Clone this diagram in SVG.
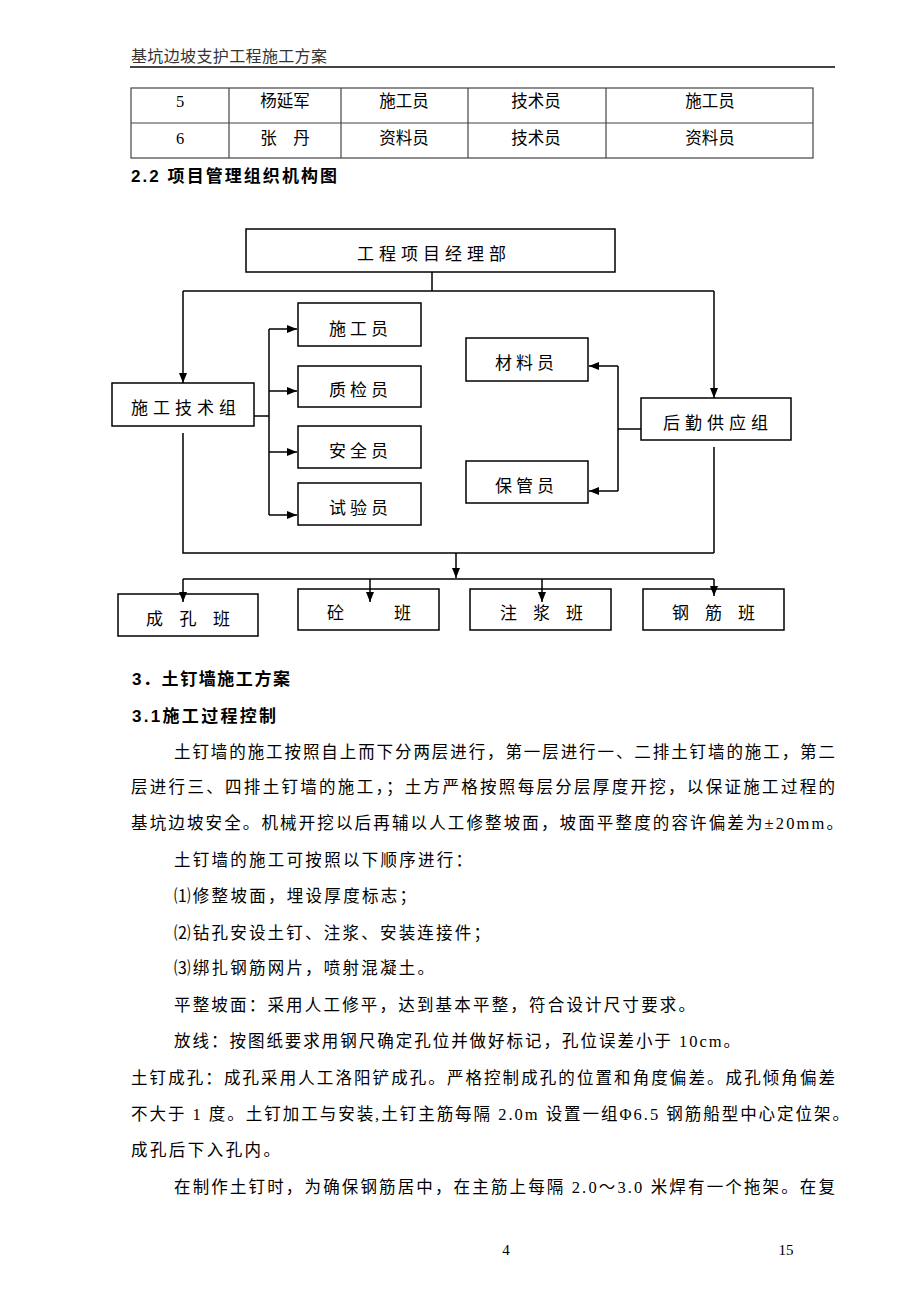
<svg xmlns="http://www.w3.org/2000/svg" width="920" height="1302" viewBox="0 0 920 1302">
<style>
.t{font-family:"Liberation Serif","Noto Sans CJK SC",serif;fill:#000;dominant-baseline:central}
.body{font-size:16.5px}
.hd{font-family:"Liberation Sans","Noto Sans CJK SC",sans-serif;font-weight:bold;font-size:17px;fill:#000;dominant-baseline:central}
.box{fill:#fff;stroke:#000;stroke-width:1.5}
.bt{font-family:"Noto Sans CJK SC",sans-serif;font-size:17px;fill:#000;dominant-baseline:central}
.ln{fill:none;stroke:#000;stroke-width:1.5}
.tb{fill:none;stroke:#444;stroke-width:1.2}
.tc{font-family:"Liberation Serif","Noto Sans CJK SC",serif;font-size:16.5px;fill:#000;dominant-baseline:central;text-anchor:middle}
</style>
<defs>
<marker id="ah" viewBox="0 0 10 8" refX="10" refY="4" markerWidth="10" markerHeight="8" markerUnits="userSpaceOnUse" orient="auto">
<path d="M0,0 L10,4 L0,8 z" fill="#000"/>
</marker>
</defs>
<rect width="920" height="1302" fill="#fff"/>

<g id="header">
<text x="131" y="55" font-family="Noto Sans CJK SC,sans-serif" font-size="16" fill="#333" dominant-baseline="central" textLength="196" lengthAdjust="spacing">基坑边坡支护工程施工方案</text>
<line x1="130" y1="67" x2="835" y2="67" stroke="#444" stroke-width="2"/>
</g>

<g id="table">
<rect class="tb" x="131" y="88" width="682" height="70"/>
<line class="tb" x1="131" y1="123" x2="813" y2="123"/>
<line class="tb" x1="229" y1="88" x2="229" y2="158"/>
<line class="tb" x1="341" y1="88" x2="341" y2="158"/>
<line class="tb" x1="468" y1="88" x2="468" y2="158"/>
<line class="tb" x1="606" y1="88" x2="606" y2="158"/>
<text class="tc" x="180" y="101">5</text>
<text class="tc" x="285" y="101">杨延军</text>
<text class="tc" x="404" y="101">施工员</text>
<text class="tc" x="536" y="101">技术员</text>
<text class="tc" x="710" y="101">施工员</text>
<text class="tc" x="180" y="138">6</text>
<text class="tc" x="285" y="138">张　丹</text>
<text class="tc" x="404" y="138">资料员</text>
<text class="tc" x="536" y="138">技术员</text>
<text class="tc" x="710" y="138">资料员</text>
</g>

<text class="hd" x="131" y="176" textLength="206" lengthAdjust="spacing">2.2 项目管理组织机构图</text>

<g id="connectors">
<path class="ln" d="M432,272 V291 M183,291 H714"/>
<line class="ln" x1="183" y1="291" x2="183" y2="383" marker-end="url(#ah)"/>
<line class="ln" x1="714" y1="291" x2="714" y2="398" marker-end="url(#ah)"/>
<path class="ln" d="M254,416 H269 M269,329 V515"/>
<line class="ln" x1="269" y1="329" x2="297" y2="329" marker-end="url(#ah)"/>
<line class="ln" x1="269" y1="391" x2="297" y2="391" marker-end="url(#ah)"/>
<line class="ln" x1="269" y1="452" x2="297" y2="452" marker-end="url(#ah)"/>
<line class="ln" x1="269" y1="515" x2="297" y2="515" marker-end="url(#ah)"/>
<path class="ln" d="M641,429 H618 M618,366 V491"/>
<line class="ln" x1="618" y1="366" x2="589" y2="366" marker-end="url(#ah)"/>
<line class="ln" x1="618" y1="491" x2="589" y2="491" marker-end="url(#ah)"/>
<path class="ln" d="M183,433 V553 H714 M714,447 V553"/>
<line class="ln" x1="456" y1="553" x2="456" y2="578" marker-end="url(#ah)"/>
<path class="ln" d="M183,579 H714"/>
</g>

<g id="n_top"><rect class="box" x="246" y="229" width="369" height="43"/><text class="bt" x="357" y="252" letter-spacing="5">工程项目经理部</text></g>
<g id="n_tech"><rect class="box" x="112" y="383" width="142" height="43"/><text class="bt" x="131" y="406" letter-spacing="5">施工技术组</text></g>
<g id="n_logi"><rect class="box" x="641" y="398" width="150" height="42"/><text class="bt" x="663" y="421" letter-spacing="5">后勤供应组</text></g>
<g id="n_sgy"><rect class="box" x="298" y="303" width="123" height="43"/><text class="bt" x="329" y="327" letter-spacing="4">施工员</text></g>
<g id="n_zjy"><rect class="box" x="298" y="366" width="123" height="41"/><text class="bt" x="329" y="388" letter-spacing="4">质检员</text></g>
<g id="n_aqy"><rect class="box" x="298" y="426" width="123" height="42"/><text class="bt" x="329" y="449" letter-spacing="4">安全员</text></g>
<g id="n_syy"><rect class="box" x="298" y="483" width="123" height="42"/><text class="bt" x="329" y="506" letter-spacing="4">试验员</text></g>
<g id="n_cly"><rect class="box" x="466" y="338" width="122" height="43"/><text class="bt" x="495" y="361" letter-spacing="4">材料员</text></g>
<g id="n_bgy"><rect class="box" x="466" y="461" width="122" height="42"/><text class="bt" x="495" y="484" letter-spacing="4">保管员</text></g>

<g id="n_ckb"><rect class="box" x="118" y="594" width="140" height="42"/><text class="bt" x="146" y="617" letter-spacing="16.5">成孔班</text></g>
<g id="n_tb"><rect class="box" x="298" y="589" width="141" height="41"/><text class="bt" x="327" y="611">砼</text><text class="bt" x="394" y="611">班</text></g>
<g id="n_zjb"><rect class="box" x="470" y="589" width="141" height="41"/><text class="bt" x="500" y="611" letter-spacing="16">注浆班</text></g>
<g id="n_gjb"><rect class="box" x="643" y="589" width="141" height="41"/><text class="bt" x="672" y="611" letter-spacing="16">钢筋班</text></g>

<g id="connectors2">
<line class="ln" x1="183" y1="579" x2="183" y2="602" marker-end="url(#ah)"/>
<line class="ln" x1="370" y1="579" x2="370" y2="602" marker-end="url(#ah)"/>
<line class="ln" x1="542" y1="579" x2="542" y2="602" marker-end="url(#ah)"/>
<line class="ln" x1="714" y1="579" x2="714" y2="596" marker-end="url(#ah)"/>
</g>

<g id="body">
<text class="hd" x="132" y="679" textLength="158" lengthAdjust="spacing">3．土钉墙施工方案</text>
<text class="hd" x="132" y="716" textLength="144" lengthAdjust="spacing">3.1施工过程控制</text>
<text class="t body" x="174" y="752" textLength="661" lengthAdjust="spacing">土钉墙的施工按照自上而下分两层进行，第一层进行一、二排土钉墙的施工，第二</text>
<text class="t body" x="131" y="787" textLength="704" lengthAdjust="spacing">层进行三、四排土钉墙的施工，；土方严格按照每层分层厚度开挖，以保证施工过程的</text>
<text class="t body" x="131" y="823" textLength="712" lengthAdjust="spacing">基坑边坡安全。机械开挖以后再辅以人工修整坡面，坡面平整度的容许偏差为±20mm。</text>
<text class="t body" x="174" y="860" textLength="298" lengthAdjust="spacing">土钉墙的施工可按照以下顺序进行：</text>
<text class="t body" x="174" y="896" textLength="242" lengthAdjust="spacing">⑴修整坡面，埋设厚度标志；</text>
<text class="t body" x="174" y="933" textLength="316" lengthAdjust="spacing">⑵钻孔安设土钉、注浆、安装连接件；</text>
<text class="t body" x="174" y="968" textLength="260" lengthAdjust="spacing">⑶绑扎钢筋网片，喷射混凝土。</text>
<text class="t body" x="174" y="1005" textLength="521" lengthAdjust="spacing">平整坡面：采用人工修平，达到基本平整，符合设计尺寸要求。</text>
<text class="t body" x="174" y="1041" textLength="566" lengthAdjust="spacing">放线：按图纸要求用钢尺确定孔位并做好标记，孔位误差小于 10cm。</text>
<text class="t body" x="131" y="1078" textLength="704" lengthAdjust="spacing">土钉成孔：成孔采用人工洛阳铲成孔。严格控制成孔的位置和角度偏差。成孔倾角偏差</text>
<text class="t body" x="131" y="1114" textLength="718" lengthAdjust="spacing">不大于 1 度。土钉加工与安装,土钉主筋每隔 2.0m 设置一组Φ6.5 钢筋船型中心定位架。</text>
<text class="t body" x="131" y="1150" textLength="149" lengthAdjust="spacing">成孔后下入孔内。</text>
<text class="t body" x="174" y="1187" textLength="661" lengthAdjust="spacing">在制作土钉时，为确保钢筋居中，在主筋上每隔 2.0～3.0 米焊有一个拖架。在复</text>
</g>

<g id="footer">
<text class="t" x="506" y="1250" font-size="15" text-anchor="middle">4</text>
<text class="t" x="786" y="1250" font-size="15" text-anchor="middle">15</text>
</g>
</svg>
